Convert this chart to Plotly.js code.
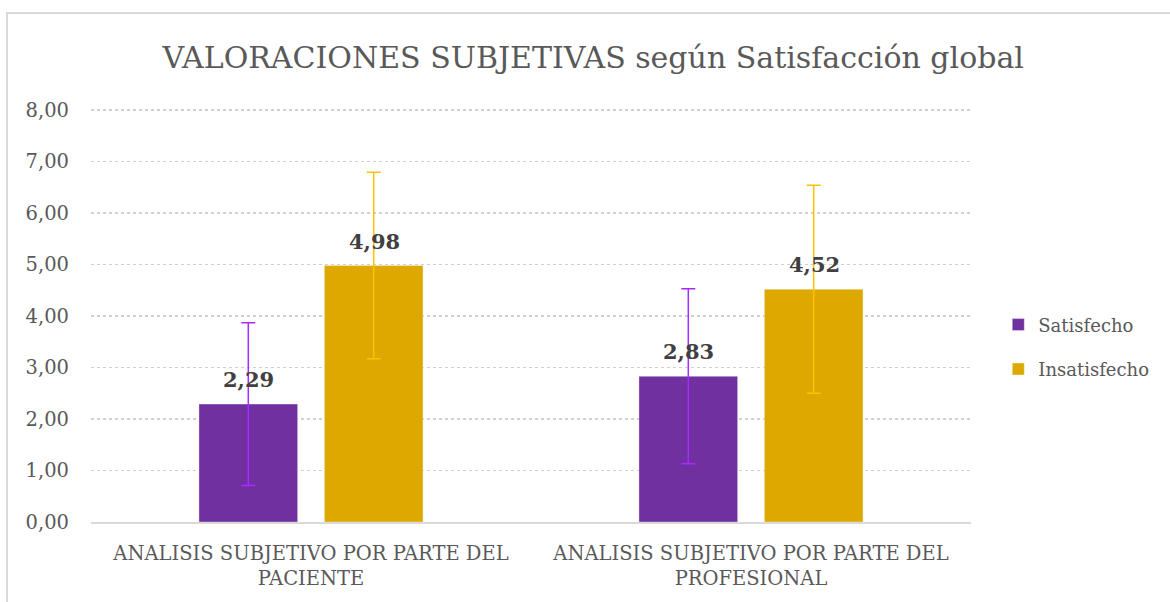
<!DOCTYPE html>
<html>
<head>
<meta charset="utf-8">
<script src="https://cdn.plot.ly/plotly-3.0.1.min.js"></script>
<style>
  html, body { margin: 0; padding: 0; background: #ffffff; }
  #frame { position: absolute; left: 6px; top: 12px; width: 1170px; height: 600px;
           border-top: 2px solid #d9d9d9; border-left: 2px solid #d9d9d9; }
  #chart { position: absolute; left: 0; top: 0; width: 1170px; height: 602px; }
</style>
</head>
<body>
<div id="frame"></div>
<div id="chart"></div>
<script>
var categories = ["ANALISIS SUBJETIVO POR PARTE DEL<br>PACIENTE", "ANALISIS SUBJETIVO POR PARTE DEL<br>PROFESIONAL"];
var seriesNames = ["Satisfecho", "Insatisfecho"];
var satisfecho = [2.29, 2.83];
var insatisfecho = [4.98, 4.52];
var satisfechoErr = [1.58, 1.70];
var insatisfechoErr = [1.81, 2.02];
var tickValues = [0, 1, 2, 3, 4, 5, 6, 7, 8];

var FONT = "DejaVu Serif, Liberation Serif, serif";
var barColors = ["#7030A0", "#DDA900"];
var errColors = ["#A62BFF", "#FFC000"];

var values = [satisfecho, insatisfecho];
var errors = [satisfechoErr, insatisfechoErr];

var traces = values.map(function (v, i) {
  return {
    type: "bar",
    name: seriesNames[i],
    x: categories,
    y: v,
    legendgroup: "g" + i,
    marker: { color: barColors[i], line: { color: "rgba(255,255,255,0.35)", width: 1 } },
    error_y: { type: "data", array: errors[i], visible: true, color: errColors[i], thickness: 1.5, width: 7 },
    hoverinfo: "skip"
  };
});

var annotations = [];
values.forEach(function (v, i) {
  v.forEach(function (val, j) {
    annotations.push({
      x: categories[j], y: val, xref: "x", yref: "y",
      text: "<b>" + val.toFixed(2).replace(".", ",") + "</b>",
      showarrow: false, yanchor: "bottom",
      xshift: (i === 0 ? -1 : 1) * 63, yshift: 10,
      font: { family: FONT, size: 21, color: "#404040" }
    });
  });
});

var layout = {
  width: 1170, height: 602,
  paper_bgcolor: "rgba(0,0,0,0)",
  plot_bgcolor: "rgba(0,0,0,0)",
  margin: { l: 91, r: 199, t: 108, b: 80, autoexpand: false },
  separators: ",.",
  font: { family: FONT, color: "#595959" },
  title: {
    text: "VALORACIONES SUBJETIVAS según Satisfacción global",
    font: { family: FONT, size: 30, color: "#595959" },
    xref: "container", x: 0.507, xanchor: "center",
    yref: "container", y: 0.905, yanchor: "middle"
  },
  barmode: "group",
  bargap: 0.43,
  bargroupgap: 0.213,
  xaxis: {
    showgrid: false, showline: true, linecolor: "#d9d9d9", linewidth: 1.5,
    ticks: "", tickfont: { family: FONT, size: 19.5, color: "#595959" },
    ticklabelstandoff: 13
  },
  yaxis: {
    range: [0, 8.04], tickvals: tickValues, tickformat: ".2f",
    showgrid: true, gridcolor: "#d0d0d0", griddash: "dot", gridwidth: 1.3,
    zeroline: false, showline: false, ticks: "",
    tickfont: { family: FONT, size: 19.5, color: "#595959" },
    ticklabelstandoff: 21
  },
  legend: {
    x: 1.031, xanchor: "left", y: 0.423, yanchor: "middle",
    traceorder: "grouped", tracegroupgap: 18,
    font: { family: FONT, size: 18, color: "#595959" },
    itemwidth: 30
  },
  annotations: annotations,
  showlegend: true
};

Plotly.newPlot("chart", traces, layout, { displayModeBar: false, staticPlot: true });
</script>
</body>
</html>
